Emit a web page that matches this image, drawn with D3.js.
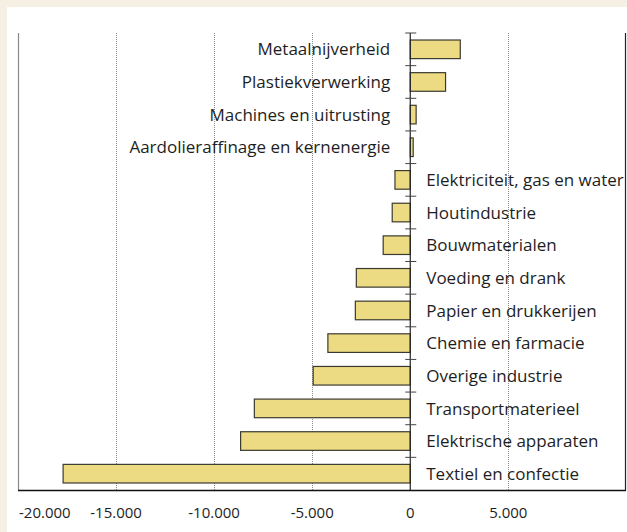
<!DOCTYPE html>
<html>
<head>
<meta charset="utf-8">
<script src="https://cdn.jsdelivr.net/npm/d3@7"></script>
<style>
  body { margin: 0; background: #f5f0e3; }
  svg { display: block; }
</style>
</head>
<body>
<div id="chart"></div>
<script>
// sectors, top to bottom
var sectors = [
  "Metaalnijverheid",
  "Plastiekverwerking",
  "Machines en uitrusting",
  "Aardolieraffinage en kernenergie",
  "Elektriciteit, gas en water",
  "Houtindustrie",
  "Bouwmaterialen",
  "Voeding en drank",
  "Papier en drukkerijen",
  "Chemie en farmacie",
  "Overige industrie",
  "Transportmaterieel",
  "Elektrische apparaten",
  "Textiel en confectie"
];

var values = [2550, 1800, 300, 150, -780, -920, -1380, -2750, -2800, -4200, -4950, -7950, -8650, -17700];

var tickValues = [-20000, -15000, -10000, -5000, 0, 5000];
var tickLabels = ["-20.000", "-15.000", "-10.000", "-5.000", "0", "5.000"];

var data = sectors.map(function(s, i) { return {name: s, value: values[i]}; });

var W = 627, H = 532;
var margin = {top: 33, right: 1, bottom: 42, left: 18},
    width = W - margin.left - margin.right,
    height = H - margin.top - margin.bottom;

var svg = d3.select("#chart").append("svg")
    .attr("width", W)
    .attr("height", H);

// white panel inside the beige frame
svg.append("rect")
    .attr("x", 7).attr("y", 7)
    .attr("width", W - 7).attr("height", H - 7)
    .attr("fill", "#fff");

var g = svg.append("g")
    .attr("transform", "translate(" + margin.left + "," + margin.top + ")");

var x = d3.scaleLinear().domain([-20000, 11000]).range([0, width]);
var y = d3.scaleBand().domain(sectors).range([0, height]).paddingInner(0.43).paddingOuter(0.215);

// dotted gridlines
g.selectAll(".grid")
    .data(tickValues.filter(function(d) { return d !== 0 && d !== -20000; }))
  .enter().append("line")
    .attr("x1", function(d) { return Math.round(x(d)) + 0.5; })
    .attr("x2", function(d) { return Math.round(x(d)) + 0.5; })
    .attr("y1", 0).attr("y2", height)
    .attr("stroke", "#8a8a8a")
    .attr("stroke-width", 1)
    .attr("stroke-dasharray", "1,1");

// left and right frame lines
g.append("line")
    .attr("x1", 0.5).attr("x2", 0.5).attr("y1", 0).attr("y2", height)
    .attr("stroke", "#888").attr("stroke-width", 1.2);
g.append("line")
    .attr("x1", width - 0.5).attr("x2", width - 0.5).attr("y1", 0).attr("y2", height)
    .attr("stroke", "#222").attr("stroke-width", 1.2);

// bars
g.selectAll(".bar")
    .data(data)
  .enter().append("rect")
    .attr("x", function(d) { return x(Math.min(0, d.value)); })
    .attr("y", function(d) { return y(d.name); })
    .attr("width", function(d) { return Math.abs(x(d.value) - x(0)); })
    .attr("height", y.bandwidth())
    .attr("fill", "#ecdb83")
    .attr("stroke", "#3b3a30")
    .attr("stroke-width", 1.2);

// zero axis with ticks between bars
g.append("line")
    .attr("x1", x(0)).attr("x2", x(0)).attr("y1", 0).attr("y2", height)
    .attr("stroke", "#222").attr("stroke-width", 1.2);

var step = y.step();
g.selectAll(".ztick")
    .data(d3.range(sectors.length))
  .enter().append("line")
    .attr("x1", x(0) - 5).attr("x2", x(0) + 6)
    .attr("y1", function(i) { return y(sectors[i]) - (step - y.bandwidth()) / 2; })
    .attr("y2", function(i) { return y(sectors[i]) - (step - y.bandwidth()) / 2; })
    .attr("stroke", "#444").attr("stroke-width", 1);

// bottom axis line
g.append("line")
    .attr("x1", 0).attr("x2", width).attr("y1", height + 0.5).attr("y2", height + 0.5)
    .attr("stroke", "#111").attr("stroke-width", 1.3);

// category labels
g.selectAll(".lbl")
    .data(data)
  .enter().append("text")
    .attr("x", function(d) { return d.value > 0 ? x(0) - 20 : x(0) + 16; })
    .attr("y", function(d) { return y(d.name) + y.bandwidth() / 2; })
    .attr("dy", "0.36em")
    .attr("text-anchor", function(d) { return d.value > 0 ? "end" : "start"; })
    .style("font-family", "'Open Sans', sans-serif")
    .style("font-size", "17px")
    .style("fill", "#1e1e1e")
    .text(function(d) { return d.name; });

// tick labels
g.selectAll(".tl")
    .data(tickValues)
  .enter().append("text")
    .attr("x", function(d, i) { return i === 0 ? x(d) + 1 : x(d); })
    .attr("y", height + 28)
    .attr("text-anchor", function(d, i) { return i === 0 ? "start" : "middle"; })
    .style("font-family", "'Open Sans', sans-serif")
    .style("font-size", "15px")
    .style("fill", "#1e1e1e")
    .text(function(d, i) { return tickLabels[i]; });
</script>
</body>
</html>
